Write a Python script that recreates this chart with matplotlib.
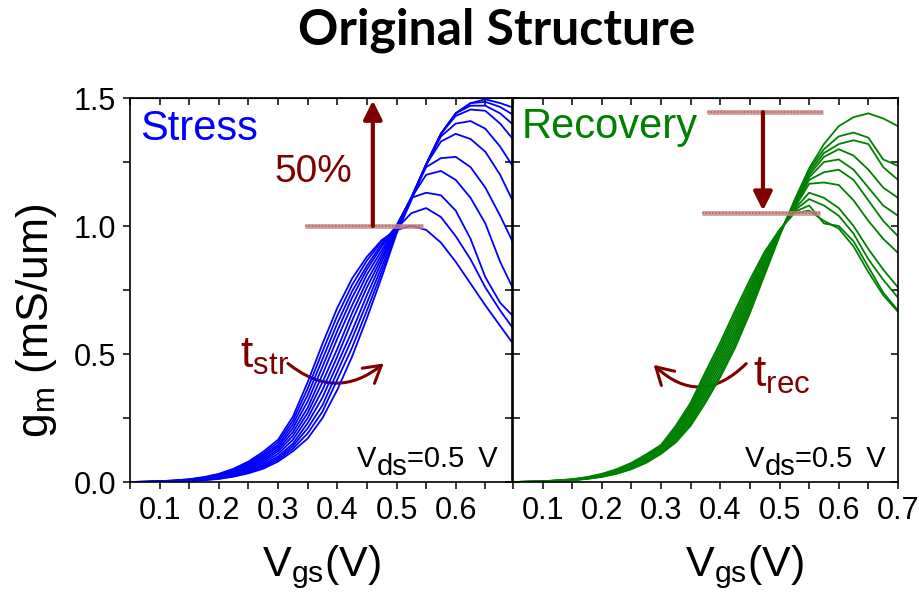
import numpy as np
import matplotlib
matplotlib.use("Agg")
import matplotlib.pyplot as plt
from matplotlib.ticker import MultipleLocator, FormatStrFormatter
from matplotlib.patches import FancyArrowPatch

plt.rcParams['font.family'] = ['Liberation Sans', 'DejaVu Sans']
plt.rcParams['mathtext.fontset'] = 'custom'
plt.rcParams['mathtext.rm'] = 'Liberation Sans'

# gate voltage grid (V)
vgs = [0.05, 0.075, 0.1, 0.125, 0.15, 0.175, 0.2, 0.225, 0.25, 0.275, 0.3,
       0.325, 0.35, 0.375, 0.4, 0.425, 0.45, 0.475, 0.5, 0.525, 0.55, 0.575,
       0.6, 0.625, 0.65, 0.675, 0.7]

# gm (mS/um) during stress, one row per stress time
gm_stress = [
    [0, .001, .003, .006, .011, .019, .032, .052, .080, .118, .165, .255, .390, .540, .680, .795, .880, .945, .985, 1.000, .985, .935, .860, .775, .690, .610, .530],
    [0, .001, .003, .006, .010, .018, .030, .048, .075, .110, .155, .240, .365, .510, .650, .770, .865, .940, .990, 1.050, 1.070, 1.035, .960, .870, .760, .670, .590],
    [0, .001, .003, .005, .009, .017, .028, .045, .070, .103, .145, .225, .340, .480, .620, .745, .845, .930, 1.000, 1.110, 1.130, 1.120, 1.060, .950, .800, .700, .640],
    [0, .001, .002, .005, .009, .015, .026, .042, .065, .096, .137, .210, .315, .450, .590, .720, .830, .920, 1.000, 1.110, 1.200, 1.215, 1.180, 1.110, 1.010, .860, .740],
    [0, .001, .002, .004, .008, .014, .024, .038, .060, .089, .128, .195, .290, .420, .560, .690, .810, .905, 1.000, 1.110, 1.230, 1.265, 1.270, 1.230, 1.150, 1.040, .920],
    [0, 0, .002, .004, .007, .013, .022, .035, .055, .082, .120, .180, .270, .390, .520, .660, .785, .890, 1.000, 1.110, 1.240, 1.330, 1.360, 1.340, 1.290, 1.200, 1.080],
    [0, 0, .002, .003, .006, .011, .019, .032, .050, .075, .110, .165, .250, .360, .490, .630, .760, .875, .995, 1.110, 1.240, 1.350, 1.400, 1.410, 1.380, 1.310, 1.220],
    [0, 0, .001, .003, .006, .010, .017, .028, .045, .068, .100, .150, .230, .330, .460, .590, .730, .860, .990, 1.110, 1.240, 1.360, 1.430, 1.455, 1.450, 1.400, 1.330],
    [0, 0, .001, .002, .005, .009, .015, .026, .041, .062, .093, .140, .210, .300, .430, .560, .700, .840, .985, 1.110, 1.240, 1.360, 1.440, 1.470, 1.470, 1.440, 1.390],
    [0, 0, .001, .002, .004, .008, .013, .023, .037, .057, .086, .130, .190, .275, .400, .525, .670, .820, .975, 1.105, 1.240, 1.360, 1.440, 1.480, 1.485, 1.465, 1.430],
    [0, 0, .001, .002, .004, .007, .012, .021, .034, .052, .080, .120, .170, .250, .360, .490, .640, .800, .970, 1.100, 1.240, 1.360, 1.440, 1.480, 1.495, 1.480, 1.460],
]

# gm (mS/um) during recovery, one row per recovery time
gm_recovery = [
    [0, 0, .002, .004, .007, .012, .020, .032, .050, .075, .110, .155, .220, .310, .410, .525, .660, .810, .960, 1.100, 1.225, 1.320, 1.390, 1.425, 1.440, 1.420, 1.390],
    [0, 0, .002, .004, .007, .013, .021, .034, .052, .078, .113, .160, .228, .320, .420, .537, .672, .818, .965, 1.095, 1.220, 1.300, 1.350, 1.365, 1.345, 1.260, 1.235],
    [0, 0, .002, .004, .008, .013, .022, .035, .055, .081, .117, .167, .237, .332, .434, .551, .685, .827, .968, 1.090, 1.210, 1.285, 1.320, 1.335, 1.320, 1.230, 1.180],
    [0, .001, .002, .004, .008, .014, .023, .037, .058, .084, .120, .173, .246, .344, .448, .566, .698, .836, .970, 1.085, 1.200, 1.270, 1.300, 1.275, 1.220, 1.150, 1.110],
    [0, .001, .002, .005, .008, .015, .024, .039, .060, .087, .124, .180, .255, .356, .462, .580, .710, .845, .973, 1.080, 1.190, 1.250, 1.260, 1.220, 1.150, 1.080, 1.040],
    [0, .001, .002, .005, .009, .015, .025, .040, .062, .091, .127, .186, .264, .368, .476, .595, .724, .854, .975, 1.075, 1.180, 1.210, 1.220, 1.180, 1.100, 1.020, .960],
    [0, .001, .002, .005, .009, .016, .027, .042, .065, .094, .131, .193, .273, .380, .490, .610, .737, .863, .978, 1.070, 1.165, 1.170, 1.160, 1.100, 1.020, .950, .895],
    [0, .001, .003, .005, .009, .017, .028, .044, .067, .098, .134, .200, .282, .392, .504, .625, .750, .872, .980, 1.065, 1.130, 1.110, 1.070, 1.000, .910, .830, .760],
    [0, .001, .003, .006, .010, .017, .029, .046, .070, .101, .138, .207, .291, .404, .518, .640, .763, .881, .982, 1.060, 1.105, 1.080, 1.040, .970, .870, .790, .720],
    [0, .001, .003, .006, .010, .018, .030, .048, .072, .105, .141, .213, .300, .417, .531, .655, .776, .890, .984, 1.055, 1.080, 1.010, 1.000, .940, .840, .740, .670],
    [0, .001, .003, .006, .011, .019, .032, .050, .075, .108, .145, .220, .310, .430, .545, .670, .790, .900, .985, 1.050, 1.060, 1.020, .990, .920, .820, .730, .665],
]

stress_ticks = [0.1, 0.2, 0.3, 0.4, 0.5, 0.6]
recovery_ticks = [0.1, 0.2, 0.3, 0.4, 0.5, 0.6, 0.7]

# reference levels (before / after)
stress_level = 1.0
stress_top = 1.49
rec_high = 1.445
rec_low = 1.05

DARKRED = '#800000'
BAND = '#c98585'

fig = plt.figure(figsize=(9.2, 6.06), dpi=100)
ax1 = fig.add_axes([130/920, 1-482/606, 382/920, 384/606])
ax2 = fig.add_axes([513/920, 1-482/606, 385/920, 384/606])

for row in gm_stress:
    ax1.plot(vgs, row, color='#0000ff', lw=1.3)
for row in gm_recovery:
    ax2.plot(vgs, row, color='#008000', lw=1.3)

ax1.set_xlim(0.05, 0.695)
ax2.set_xlim(0.05, 0.70)
for ax, ticks in ((ax1, stress_ticks), (ax2, recovery_ticks)):
    ax.set_ylim(0, 1.5)
    ax.set_xticks(ticks)
    ax.xaxis.set_minor_locator(MultipleLocator(0.05))
    ax.yaxis.set_major_locator(MultipleLocator(0.5))
    ax.yaxis.set_minor_locator(MultipleLocator(0.25))
    ax.xaxis.set_major_formatter(FormatStrFormatter('%.1f'))
    ax.yaxis.set_major_formatter(FormatStrFormatter('%.1f'))
    for s in ax.spines.values():
        s.set_linewidth(1.2)
    ax.tick_params(axis='x', which='both', direction='out', length=5, width=1.1,
                   labelsize=22, pad=5, top=False)
    # mirrored top ticks pointing inward
    sec = ax.secondary_xaxis('top')
    sec.set_xticks(ticks)
    sec.xaxis.set_minor_locator(MultipleLocator(0.05))
    sec.tick_params(which='both', direction='in', length=5, width=1.1, labeltop=False)

ax1.tick_params(axis='y', which='both', direction='out', length=5, width=1.1,
                labelsize=22, pad=5, right=False)
sec1 = ax1.secondary_yaxis('right')
sec1.yaxis.set_major_locator(MultipleLocator(0.25))
sec1.tick_params(direction='in', length=5, width=1.1, labelright=False)
ax2.tick_params(axis='y', which='both', direction='in', length=5, width=1.1,
                left=True, right=True, labelleft=False)

ax1.set_ylabel(r'$\mathregular{g_m}$ (mS/um)', fontsize=32)
ax1.yaxis.set_label_coords(-0.185, 0.42)
ax1.set_xlabel(r'$\mathregular{V_{gs}}$(V)', fontsize=31)
ax2.set_xlabel(r'$\mathregular{V_{gs}}$(V)', fontsize=31)
ax1.xaxis.set_label_coords(0.5, -0.16)
ax2.xaxis.set_label_coords(0.6, -0.16)

fig.text(0.54, 0.95, 'Original Structure', ha='center', va='center',
         fontsize=36, fontweight='bold', family=['Lato', 'DejaVu Sans'])

ax1.text(0.026, 0.89, 'Stress', transform=ax1.transAxes, color='#0000ff',
         fontsize=30, va='baseline')
ax2.text(0.023, 0.895, 'Recovery', transform=ax2.transAxes, color='#008000',
         fontsize=30, va='baseline')

# left panel: reference band and 50% arrow
ax1.plot([0.345, 0.545], [stress_level, stress_level], color=BAND, lw=3.5, alpha=0.8,
         solid_capstyle='butt')
ax1.plot([0.345, 0.545], [stress_level, stress_level], color='#a85a5a', lw=1.2,
         ls=(0, (1, 1)), alpha=0.8)
ax1.annotate('', xy=(0.46, stress_top), xytext=(0.46, stress_level),
             arrowprops=dict(arrowstyle='-|>', color=DARKRED, lw=3, mutation_scale=28,
                             shrinkA=0, shrinkB=0))
ax1.text(0.294, 1.17, '50%', color=DARKRED, fontsize=28, va='baseline')

# right panel: bands before/after recovery
for (x0, x1), lvl in (((0.377, 0.574), rec_high), ((0.369, 0.569), rec_low)):
    ax2.plot([x0, x1], [lvl, lvl], color=BAND, lw=3.5, alpha=0.8, solid_capstyle='butt')
    ax2.plot([x0, x1], [lvl, lvl], color='#a85a5a', lw=1.2, ls=(0, (1, 1)), alpha=0.8)
ax2.annotate('', xy=(0.472, rec_low + 0.01), xytext=(0.472, rec_high),
             arrowprops=dict(arrowstyle='-|>', color=DARKRED, lw=3, mutation_scale=28,
                             shrinkA=0, shrinkB=0))

# curved time arrows
arc1 = FancyArrowPatch((0.313, 0.47), (0.482, 0.47), connectionstyle='arc3,rad=0.42',
                       arrowstyle='->,head_length=12,head_width=7', color=DARKRED, lw=2.2)
ax1.add_patch(arc1)
ax1.text(0.236, 0.445, r'$\mathregular{t_{str}}$', color=DARKRED, fontsize=32, va='baseline')

arc2 = FancyArrowPatch((0.447, 0.47), (0.284, 0.465), connectionstyle='arc3,rad=-0.5',
                       arrowstyle='->,head_length=12,head_width=7', color=DARKRED, lw=2.2)
ax2.add_patch(arc2)
ax2.text(0.455, 0.37, r'$\mathregular{t_{rec}}$', color=DARKRED, fontsize=32, va='baseline')

# V_ds note: full-size lowered "ds" between "V" and the value
for ax, x0 in ((ax1, 0.594), (ax2, 0.603)):
    tv = ax.text(x0, 0.039, 'V', transform=ax.transAxes, ha='left', va='baseline',
                 fontsize=21)
    tds = ax.annotate('ds', xy=(1, 0), xycoords=tv, xytext=(0, -6),
                      textcoords='offset points', ha='left', va='bottom', fontsize=21)
    ax.annotate('=0.5\u2009 V', xy=(1, 0), xycoords=tds, xytext=(0, 6),
                textcoords='offset points', ha='left', va='bottom', fontsize=21)

fig.savefig('out.png', dpi=100)
